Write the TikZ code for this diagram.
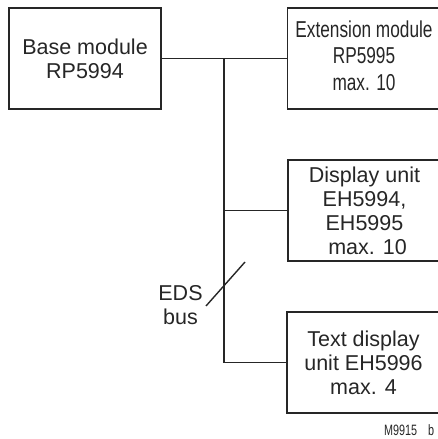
\documentclass[tikz,border=0pt]{standalone}
\usepackage{fontspec}
\setmainfont{Liberation Sans}
\usepackage{graphicx}
\definecolor{ink}{HTML}{262626}
\tikzset{
  box/.style={draw=ink, line width=1.6pt, minimum width=153pt, minimum height=101pt,
    inner sep=0pt, align=center, text=ink, font=\fontsize{21.5}{24}\selectfont},
  wire/.style={draw=ink, line width=1.6pt},
  lbl/.style={inner sep=0pt, align=center, text=ink, font=\fontsize{21.5}{24}\selectfont}
}
\begin{document}
\begin{tikzpicture}[x=1pt,y=1pt]
\useasboundingbox (0,0) rectangle (438,439);
\clip (0,0) rectangle (438,439);
\node[box, minimum width=152pt] (base) at (85,380.5) {Base module\\RP5994};
\node[box, font=\fontsize{23}{26.5}\selectfont] (ext) at (364,380.5)
  {\scalebox{0.75}[1]{\begin{tabular}{@{}c@{}}Extension module\\RP5995\\max. 10\end{tabular}}};
\node[box] (disp) at (364.5,228.5) {Display unit\\EH5994,\\EH5995\\\ max. 10};
\node[box] (txt) at (363.5,76.5) {Text display\\unit EH5996\\max. 4};
\coordinate (bus) at (224,0);
\draw[wire] (base.east) -- (ext.west);
\draw[wire] (bus |- base.east) -- (bus |- txt.west) -- (txt.west);
\draw[wire] (bus |- disp.west) -- (disp.west);
\coordinate (s1) at (206,133);
\coordinate (s2) at (245,177);
\draw[wire, line width=1.4pt] (s1) -- (s2);
\node[lbl] (eds) at (180.5,133.5) {EDS\\bus};
\node[inner sep=0pt, anchor=base west, text=ink, font=\fontsize{15}{18}\selectfont] (id) at (384,3)
  {\scalebox{0.72}[1]{M9915\hspace{15pt}b}};
\end{tikzpicture}
\end{document}
